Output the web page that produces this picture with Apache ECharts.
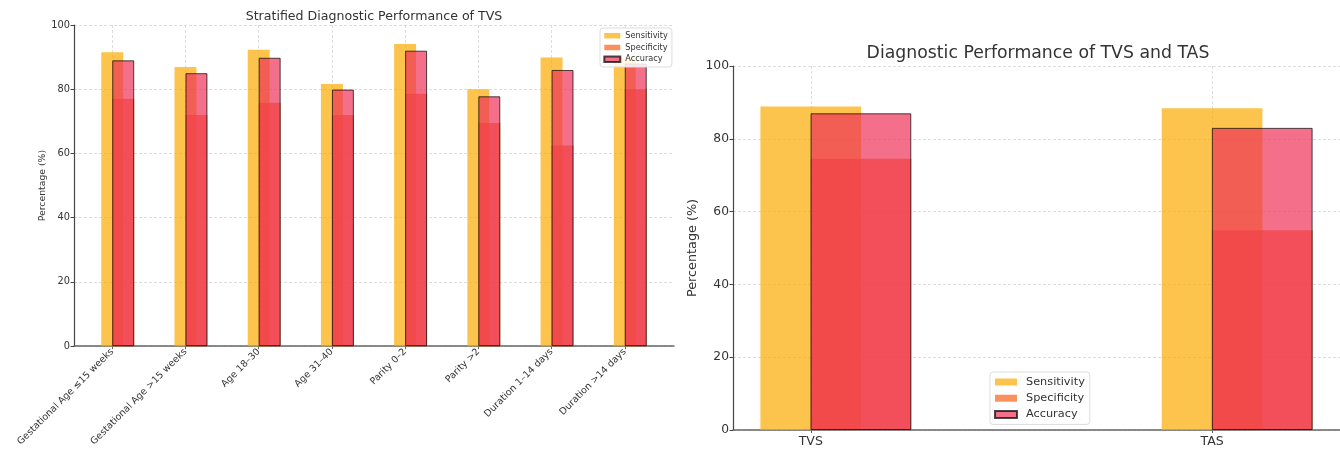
<!DOCTYPE html>
<html><head><meta charset="utf-8">
<script src="https://cdn.jsdelivr.net/npm/echarts@6/dist/echarts.min.js"></script>
<style>html,body{margin:0;padding:0;background:#fff}#c{width:1340px;height:449px}</style>
</head><body><div id="c"></div>
<script>
// ---- data ----
const strataCategories = ['Gestational Age ≤15 weeks', 'Gestational Age >15 weeks', 'Age 18–30', 'Age 31–40', 'Parity 0–2', 'Parity >2', 'Duration 1–14 days', 'Duration >14 days'];
const strataSensitivity = [91.5, 86.9, 92.3, 81.6, 94.1, 80.0, 89.9, 90.0];
const strataSpecificity = [77.0, 72.0, 75.8, 72.0, 78.6, 69.5, 62.5, 80.0];
const strataAccuracy    = [89.0, 85.0, 89.8, 79.9, 92.0, 77.8, 86.0, 88.0];
const methodCategories = ['TVS', 'TAS'];
const methodSensitivity = [88.9, 88.4];
const methodSpecificity = [74.5, 54.9];
const methodAccuracy    = [87.0, 83.0];
const yTicks = [0, 20, 40, 60, 80, 100];
const seriesNames = ['Sensitivity', 'Specificity', 'Accuracy'];

// ---- style / layout ----
const FONT = 'DejaVu Sans';
const COLORS = ['rgb(251,171,0)', 'rgb(245,98,26)', 'rgb(239,51,88)'];
const ALPHA = 0.7;
const L = { left: 74, top: 25, width: 600, height: 322, min: -0.5225, max: 7.6725, bw: 0.3 };
const R = { left: 733, top: 66, width: 609.5, height: 364, min: -0.19375, max: 1.31875, bw: 0.25 };
const pxPerUnit = p => p.width / (p.max - p.min);

const gridLine = { show: true, lineStyle: { color: '#d4d4d4', width: 0.8, type: [3, 2] } };

function xAxisFor(p, cats, gi, fs, rotate) {
  const idx = cats.map((c, i) => i);
  return {
    type: 'value', gridIndex: gi, min: p.min, max: p.max,
    axisLine: { show: true, onZero: false, lineStyle: { color: '#666', width: 1.5 } },
    axisTick: { show: true, length: 3, customValues: idx, lineStyle: { color: '#666' } },
    axisLabel: { customValues: idx, formatter: v => cats[Math.round(v)], rotate: rotate,
      fontFamily: FONT, fontSize: fs, color: '#333', margin: rotate ? 4 : 5 },
    splitLine: gridLine
  };
}
function yAxisFor(gi, fs, nameFs, gap) {
  return {
    type: 'value', gridIndex: gi, min: yTicks[0], max: yTicks[yTicks.length - 1], interval: yTicks[1] - yTicks[0],
    name: 'Percentage (%)', nameLocation: 'middle', nameGap: gap,
    nameTextStyle: { fontFamily: FONT, fontSize: nameFs, color: '#333' },
    axisLine: { show: true, onZero: false, lineStyle: { color: '#444', width: 1.2 } },
    axisTick: { show: true, length: 3.5, lineStyle: { color: '#444' } },
    axisLabel: { fontFamily: FONT, fontSize: fs, color: '#333', margin: 4 },
    splitLine: gridLine
  };
}
function barsFor(p, gi, sens, spec, acc) {
  const w = p.bw * pxPerUnit(p);
  const off = p.bw / 2;
  const lists = [sens.map((v, i) => [i, v]), spec.map((v, i) => [i + off, v]), acc.map((v, i) => [i + off, v])];
  return lists.map((d, k) => ({
    type: 'bar', name: seriesNames[k], xAxisIndex: gi, yAxisIndex: gi, data: d,
    barWidth: w, barGap: '-100%',
    itemStyle: k === 2 ? { color: COLORS[k], opacity: ALPHA, borderColor: '#000', borderWidth: 1 }
                       : { color: COLORS[k], opacity: ALPHA },
    emphasis: { disabled: true }
  }));
}

const option = {
  animation: false,
  backgroundColor: '#fff',
  title: [
    { text: 'Stratified Diagnostic Performance of TVS', left: 374, top: 10, textAlign: 'center', padding: 0,
      textStyle: { fontFamily: FONT, fontSize: 12.6, fontWeight: 'normal', color: '#333' } },
    { text: 'Diagnostic Performance of TVS and TAS', left: 1038, top: 45, textAlign: 'center', padding: 0,
      textStyle: { fontFamily: FONT, fontSize: 17.3, fontWeight: 'normal', color: '#333' } }
  ],
  legend: [
    { data: seriesNames, orient: 'vertical', left: 600, top: 28, padding: [3.2, 4, 3.2, 3.3],
      itemWidth: 16, itemHeight: 5.5, itemGap: 2.8, icon: 'rect',
      backgroundColor: 'rgba(255,255,255,0.85)', borderColor: '#ddd', borderWidth: 1, borderRadius: 3,
      textStyle: { fontFamily: FONT, fontSize: 8.2, lineHeight: 9, color: '#333' } },
    { data: seriesNames, orient: 'vertical', left: 990, top: 372, padding: [4, 5, 4, 4],
      itemWidth: 22, itemHeight: 7, itemGap: 4.2, icon: 'rect',
      backgroundColor: 'rgba(255,255,255,0.85)', borderColor: '#ddd', borderWidth: 1, borderRadius: 3,
      textStyle: { fontFamily: FONT, fontSize: 11.3, lineHeight: 12, color: '#333', padding: [0, 0, 0, 4] } }
  ],
  grid: [
    { left: L.left, top: L.top, width: L.width, height: L.height, containLabel: false },
    { left: R.left, top: R.top, width: R.width, height: R.height, containLabel: false }
  ],
  xAxis: [xAxisFor(L, strataCategories, 0, 9.5, 45), xAxisFor(R, methodCategories, 1, 12.5, 0)],
  yAxis: [yAxisFor(0, 9.8, 9.3, 26), yAxisFor(1, 12.3, 12.8, 34)],
  series: [
    ...barsFor(L, 0, strataSensitivity, strataSpecificity, strataAccuracy),
    ...barsFor(R, 1, methodSensitivity, methodSpecificity, methodAccuracy)
  ]
};
const chart = echarts.init(document.getElementById('c'), null, { renderer: 'canvas' });
chart.setOption(option);
</script></body></html>
